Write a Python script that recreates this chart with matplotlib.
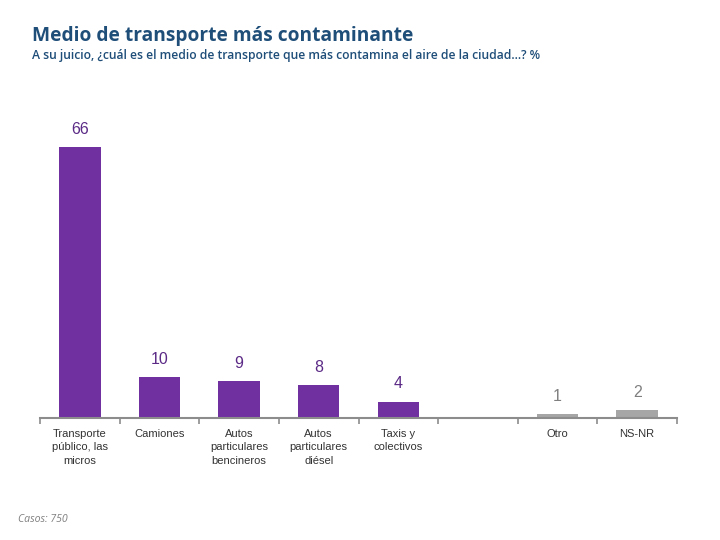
import matplotlib
matplotlib.use("Agg")
import matplotlib.pyplot as plt

categories = ["Transporte\npúblico, las\nmicros", "Camiones", "Autos\nparticulares\nbencineros",
              "Autos\nparticulares\ndiésel", "Taxis y\ncolectivos", "", "Otro", "NS-NR"]
values = [66, 10, 9, 8, 4, None, 1, 2]
labels = ["66", "10", "9", "8", "4", "", "1", "2"]
purple = "#7030A0"
gray = "#A6A6A6"
bar_colors = [purple] * 5 + [None, gray, gray]
label_colors = ["#5B2A86"] * 5 + [None, "#7F7F7F", "#7F7F7F"]

fig = plt.figure(figsize=(7.2, 5.4), dpi=100)
ax = fig.add_axes([40/720, 1-418/540, 637/720, 328/540])

for i, (v, c, lab, lc) in enumerate(zip(values, bar_colors, labels, label_colors)):
    if v is None:
        continue
    ax.bar(i, v, width=0.52, color=c)
    ax.text(i, v + 2.5, lab, ha="center", va="bottom", fontsize=11.5, color=lc,
            family="Liberation Sans")

ax.set_xlim(-0.5, 7.5)
ax.set_ylim(0, 80)
for s in ["top", "right", "left"]:
    ax.spines[s].set_visible(False)
ax.spines["bottom"].set_color("#8C8C8C")
ax.spines["bottom"].set_linewidth(1.5)
ax.set_yticks([])
ax.set_xticks([i - 0.5 for i in range(9)], minor=False)
ax.set_xticklabels([])
ax.tick_params(axis="x", length=4, color="#8C8C8C", width=1.2)
for i, cat in enumerate(categories):
    ax.text(i, -2.6, cat, ha="center", va="top", fontsize=8, color="#333333",
            family="Liberation Sans", linespacing=1.45)

fig.text(32/720, 1-36/540, "Medio de transporte más contaminante", fontsize=13.8,
         color="#1F4E79", family="Open Sans", fontweight="bold", va="center")
fig.text(32/720, 1-56/540,
         "A su juicio, ¿cuál es el medio de transporte que más contamina el aire de la ciudad…? %",
         fontsize=8.7, color="#1F4E79", family="Open Sans", fontweight="semibold", va="center")
fig.text(18/720, 1-520/540, "Casos: 750", fontsize=7.6, color="#7F7F7F", style="italic",
         family="Open Sans", va="center")

fig.savefig("out.png", dpi=100)
